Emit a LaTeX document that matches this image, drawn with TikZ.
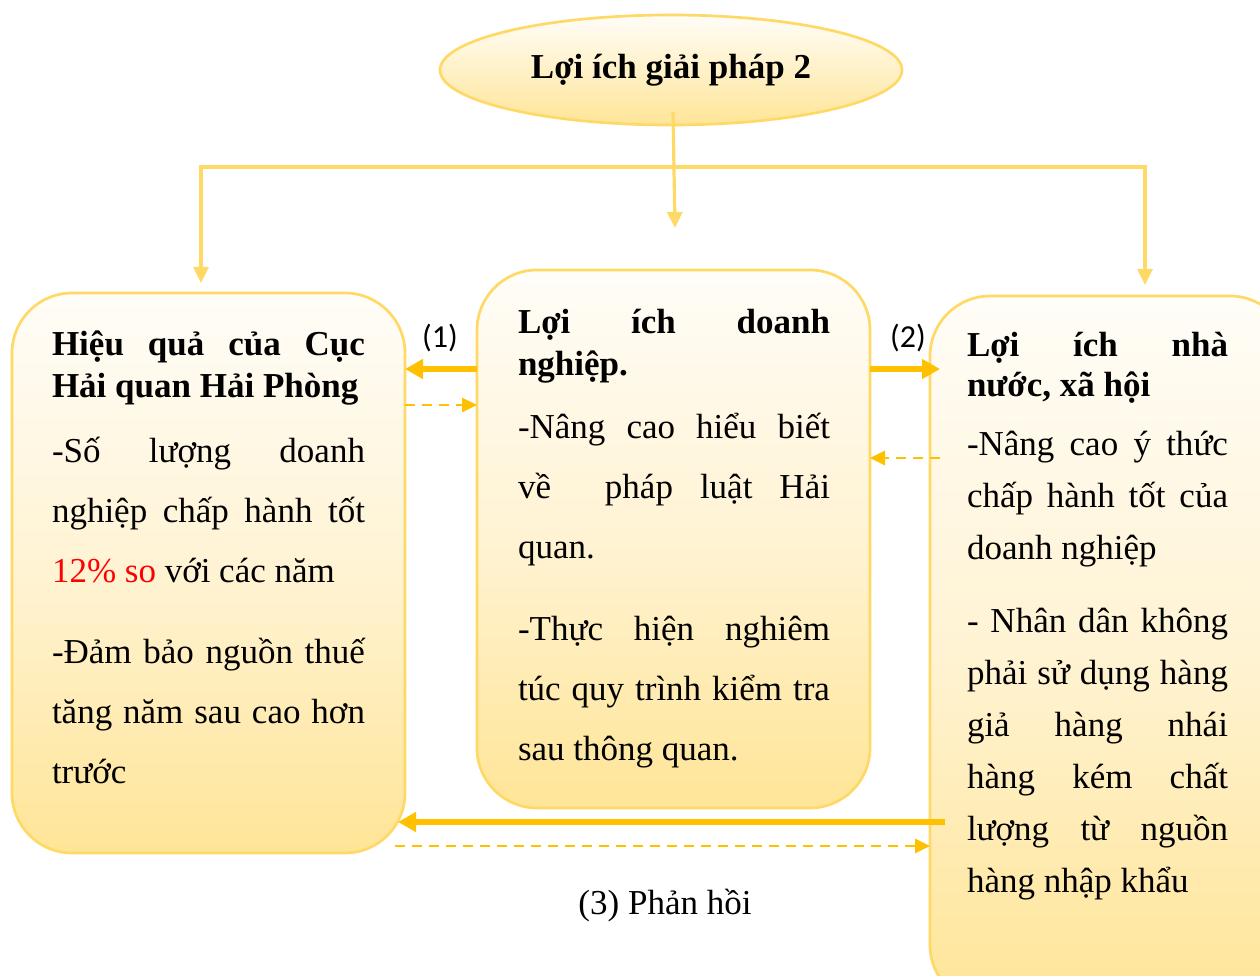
\documentclass[tikz,border=0pt]{standalone}
\usepackage{fontspec}
\setmainfont{Liberation Serif}
\newfontfamily\calibri{Carlito}
\usetikzlibrary{shapes.geometric,arrows.meta}

\definecolor{gold}{HTML}{FFC000}
\definecolor{goldline}{HTML}{FFD966}
\definecolor{paleyel}{HTML}{FFE597}
\definecolor{midyel}{HTML}{FFF3D3}
\definecolor{cream}{HTML}{FFFDF8}

% one justified line / last line of a paragraph
\newcommand{\jline}[1]{\hbox to \hsize{\spaceskip=.25em plus 1fil minus .08em\relax#1}}
\newcommand{\eline}[1]{\hbox to \hsize{#1\hfil}}

\begin{document}
\begin{tikzpicture}[x=1pt,y=-1pt,
    box/.style={draw=goldline,line width=2.7pt,rounded corners=60pt,
        top color=cream,bottom color=paleyel,middle color=midyel,
        inner sep=0pt,outer sep=0pt},
    title/.style={ellipse,draw=goldline,line width=2.7pt,
        top color=cream,bottom color=paleyel,
        minimum width=462pt,minimum height=110pt,
        font=\fontsize{35}{42}\selectfont\bfseries},
    txt/.style={anchor=base west,inner sep=0pt,outer sep=0pt},
    link/.style={draw=goldline,line width=3.2pt},
    strong/.style={draw=gold,line width=6pt,-{Triangle[length=18pt,width=19pt]}},
    weak/.style={draw=gold,line width=2.7pt,dash pattern=on 10pt off 7pt,
        -{Triangle[length=15pt,width=14pt]}}]
    \useasboundingbox (0,0) rectangle (1260,976);
    \clip (0,0) rectangle (1260,976);

    \node[title] (goal) at (671,70) {Lợi ích giải pháp 2};

    \node[box,minimum width=393pt,minimum height=560pt] (cuc) at (208.5,573) {};
    \node[box,minimum width=393pt,minimum height=538pt] (dn) at (673.5,539) {};
    \node[box,minimum width=360pt,minimum height=709pt] (nn) at (1110,650.5) {};

    % connectors from the title
    \coordinate (hub) at (673,112);
    \coordinate (tipM) at (675,228);
    \coordinate (jl) at (201,167);
    \coordinate (jr) at (1145,167);
    \coordinate (tipL) at (201,283);
    \coordinate (tipR) at (1145,285);
    \draw[link,-{Triangle[length=16pt,width=15pt]}] (hub) -- (tipM);
    \draw[link,{Triangle[length=16pt,width=15pt]}-{Triangle[length=16pt,width=15pt]}]
        (tipL) -- (jl) -- (jr) -- (tipR);

    % texts of the boxes
    \node[txt] (cucT) at (52,355) {\vtop{\hsize=313pt
        \fontsize{35}{42}\selectfont\bfseries
        \jline{Hiệu quả của Cục}
        \eline{Hải quan Hải Phòng}
        \fontsize{35}{60}\selectfont\mdseries\vspace{5pt}
        \jline{-Số lượng doanh}
        \jline{nghiệp chấp hành tốt}
        \eline{\textcolor{red}{12\% so} với các năm}
        \vspace{21pt}
        \jline{-Đảm bảo nguồn thuế}
        \jline{tăng năm sau cao hơn}
        \eline{trước}}};

    \node[txt] (dnT) at (518,333) {\vtop{\hsize=312pt
        \fontsize{35}{42}\selectfont\bfseries
        \jline{Lợi ích doanh}
        \eline{nghiệp.}
        \fontsize{35}{60}\selectfont\mdseries\vspace{3pt}
        \jline{-Nâng cao hiểu biết}
        \jline{về\ \ pháp luật Hải}
        \eline{quan.}
        \vspace{22pt}
        \jline{-Thực hiện nghiêm}
        \jline{túc quy trình kiểm tra}
        \eline{sau thông quan.}}};

    \node[txt] (nnT) at (967,356) {\vtop{\hsize=261pt
        \fontsize{35}{40}\selectfont\bfseries
        \jline{Lợi ích nhà}
        \eline{nước, xã hội}
        \fontsize{35}{52}\selectfont\mdseries\vspace{7pt}
        \jline{-Nâng cao ý thức}
        \jline{chấp hành tốt của}
        \eline{doanh nghiệp}
        \vspace{21pt}
        \jline{- Nhân dân không}
        \jline{phải sử dụng hàng}
        \jline{giả hàng nhái}
        \jline{hàng kém chất}
        \jline{lượng từ nguồn}
        \eline{hàng nhập khẩu}}};

    % arrows between the boxes
    \coordinate (to2) at (940,369);
    \coordinate (from2) at (940,458);
    \coordinate (from3) at (945,822);
    \coordinate (to3) at (398,822);
    \coordinate (back3) at (395,846);
    \draw[strong] (dn.west |- 0,369) -- (cuc.east |- 0,369);
    \draw[weak] (cuc.east |- 0,405) -- (dn.west |- 0,405);
    \draw[strong] (dn.east |- 0,369) -- (to2);
    \draw[weak] (from2) -- (dn.east |- 0,458);
    \draw[strong] (from3) -- (to3);
    \draw[weak] (back3) -- (nn.west |- 0,846);

    \node (lab1) at (440,338) {\calibri\fontsize{32}{38}\selectfont (1)};
    \node (lab2) at (908,338) {\calibri\fontsize{32}{38}\selectfont (2)};
    \node (lab3) at (665,906) {\fontsize{35}{42}\selectfont (3) Phản hồi};
\end{tikzpicture}
\end{document}
